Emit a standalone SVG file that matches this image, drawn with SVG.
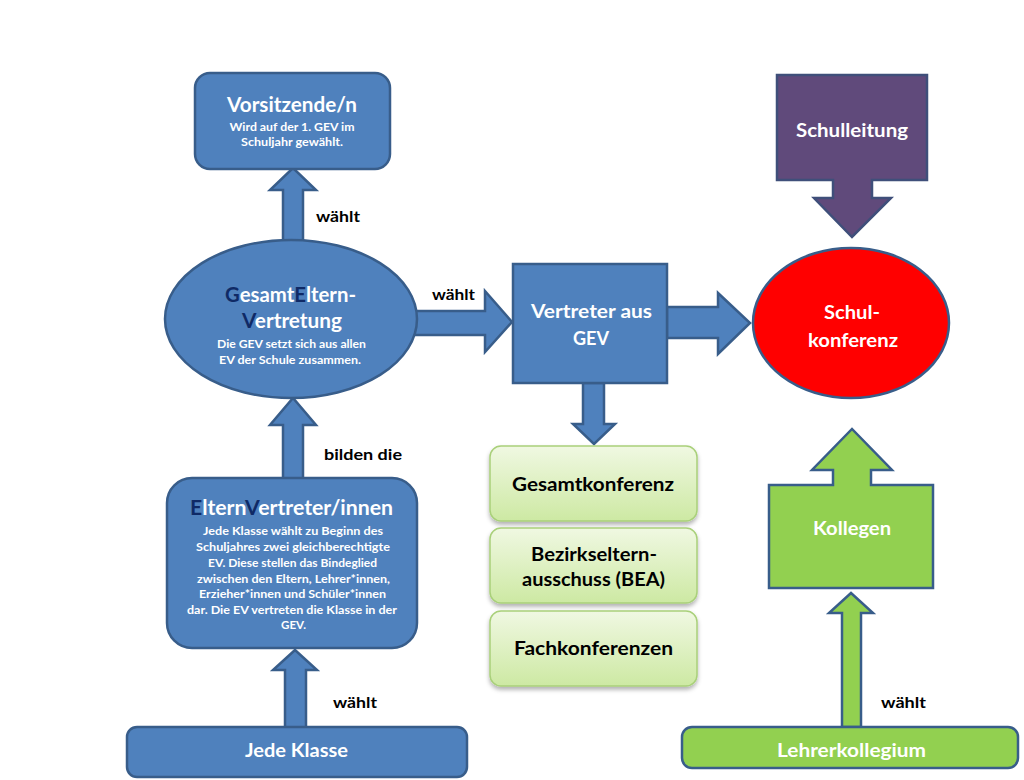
<svg xmlns="http://www.w3.org/2000/svg" width="1024" height="780" viewBox="0 0 1024 780">
<defs>
<linearGradient id="gg" x1="0" y1="0" x2="0" y2="1">
<stop offset="0" stop-color="#F0F8E2"/>
<stop offset="1" stop-color="#CDE9A3"/>
</linearGradient>
<filter id="sh" x="-10%" y="-10%" width="120%" height="130%">
<feDropShadow dx="0" dy="3" stdDeviation="2" flood-color="#000" flood-opacity="0.3"/>
</filter>
</defs>
<style>
.b{fill:#4F81BD;stroke:#385D8A;stroke-width:2.5}
.t{font-family:Lato,"Open Sans",sans-serif;font-weight:bold;fill:#fff;text-anchor:middle}
.k{font-family:Lato,"Open Sans",sans-serif;font-weight:bold;fill:#000;text-anchor:middle;font-size:19.5px}
.big{font-size:20px}
.w{font-size:19.5px}
.sm{font-size:12px}
.lbl{font-family:Lato,"Open Sans",sans-serif;font-weight:bold;fill:#000;font-size:16px}
.d{fill:#0F2A66}
.g{fill:url(#gg);stroke:#A9D07A;stroke-width:1.5}
.gr{fill:#92D050;stroke:#385D8A;stroke-width:2.5}
</style>
<rect width="1024" height="780" fill="#fff"/>
<g id="connectors">
<polygon class="b" points="283,241 283,190 270,190 293,168 316,190 303,190 303,241"/>
<polygon class="b" points="283,479 283,425 270,425 293,398 316,425 303,425 303,479"/>
<polygon class="b" points="285,728 285,670 273,670 295,650 317,670 306,670 306,728"/>
<polygon class="b" points="412,311 485,311 485,291 512,322 485,352 485,335 412,335"/>
<polygon class="b" points="667,307 718,307 718,293 750,323 718,354 718,338 667,338"/>
<polygon class="b" points="583,383 583,424 573,424 594,444 615,424 604,424 604,383"/>
<polygon class="gr" points="842,727 842,613 829,613 851,593 873,613 861,613 861,727"/>
<text class="lbl" x="316" y="222" textLength="44" lengthAdjust="spacingAndGlyphs">wählt</text>
<text class="lbl" x="324" y="460" textLength="78" lengthAdjust="spacingAndGlyphs">bilden die</text>
<text class="lbl" x="333" y="708" textLength="44" lengthAdjust="spacingAndGlyphs">wählt</text>
<text class="lbl" x="432" y="300" textLength="43" lengthAdjust="spacingAndGlyphs">wählt</text>
<text class="lbl" x="881" y="708" textLength="45" lengthAdjust="spacingAndGlyphs">wählt</text>
</g>
<g id="vorsitzende">
<rect class="b" x="195" y="73" width="195" height="96" rx="15"/>
<text class="t big" x="292" y="112" textLength="130" lengthAdjust="spacingAndGlyphs">Vorsitzende/n</text>
<text class="t sm" x="292" y="131" textLength="125" lengthAdjust="spacingAndGlyphs">Wird auf der 1. GEV im</text>
<text class="t sm" x="292" y="146" textLength="102" lengthAdjust="spacingAndGlyphs">Schuljahr gewählt.</text>
</g>
<g id="gev">
<ellipse class="b" cx="291" cy="319" rx="126" ry="79"/>
<text class="t big" x="290.5" y="302" textLength="131" lengthAdjust="spacingAndGlyphs"><tspan class="d">G</tspan>esamt<tspan class="d">E</tspan>ltern-</text>
<text class="t big" x="292" y="328" textLength="100" lengthAdjust="spacingAndGlyphs"><tspan class="d">V</tspan>ertretung</text>
<text class="t sm" x="291.5" y="348" textLength="149" lengthAdjust="spacingAndGlyphs">Die GEV setzt sich aus allen</text>
<text class="t sm" x="290" y="364" textLength="142" lengthAdjust="spacingAndGlyphs">EV der Schule zusammen.</text>
</g>
<g id="ev">
<rect class="b" x="167" y="478" width="250" height="170" rx="25"/>
<text class="t" style="font-size:20.5px" x="291.5" y="515" textLength="203" lengthAdjust="spacingAndGlyphs"><tspan class="d">E</tspan>ltern<tspan class="d">V</tspan>ertreter/innen</text>
<text class="t sm" x="293" y="535" textLength="180" lengthAdjust="spacingAndGlyphs">Jede Klasse wählt zu Beginn des</text>
<text class="t sm" x="293" y="551" textLength="194" lengthAdjust="spacingAndGlyphs">Schuljahres zwei gleichberechtigte</text>
<text class="t sm" x="292.5" y="567" textLength="169" lengthAdjust="spacingAndGlyphs">EV. Diese stellen das Bindeglied</text>
<text class="t sm" x="293.5" y="583" textLength="193" lengthAdjust="spacingAndGlyphs">zwischen den Eltern, Lehrer*innen,</text>
<text class="t sm" x="292.5" y="598" textLength="187" lengthAdjust="spacingAndGlyphs">Erzieher*innen und Schüler*innen</text>
<text class="t sm" x="292" y="614" textLength="210" lengthAdjust="spacingAndGlyphs">dar. Die EV vertreten die Klasse in der</text>
<text class="t sm" x="293.5" y="629" textLength="25" lengthAdjust="spacingAndGlyphs">GEV.</text>
</g>
<g id="jedeklasse">
<rect class="b" x="127" y="727" width="340" height="50" rx="10"/>
<text class="t w" x="296.5" y="757" textLength="103" lengthAdjust="spacingAndGlyphs">Jede Klasse</text>
</g>
<g id="vertreter">
<rect class="b" x="513" y="264" width="154" height="119"/>
<text class="t w" x="591.5" y="318" textLength="121" lengthAdjust="spacingAndGlyphs">Vertreter aus</text>
<text class="t w" x="591" y="345" textLength="36" lengthAdjust="spacingAndGlyphs">GEV</text>
</g>
<g id="gesamtkonferenz">
<rect class="g" filter="url(#sh)" x="490" y="446" width="207" height="75" rx="11"/>
<text class="k" x="593" y="491" textLength="162" lengthAdjust="spacingAndGlyphs">Gesamtkonferenz</text>
</g>
<g id="bea">
<rect class="g" filter="url(#sh)" x="490" y="528" width="207" height="75" rx="11"/>
<text class="k" x="594" y="561" textLength="126" lengthAdjust="spacingAndGlyphs">Bezirkseltern-</text>
<text class="k" x="593.5" y="586" textLength="143" lengthAdjust="spacingAndGlyphs">ausschuss (BEA)</text>
</g>
<g id="fachkonferenzen">
<rect class="g" filter="url(#sh)" x="490" y="611" width="207" height="75" rx="11"/>
<text class="k" x="593.5" y="655" textLength="159" lengthAdjust="spacingAndGlyphs">Fachkonferenzen</text>
</g>
<g id="schulleitung">
<polygon fill="#604A7B" stroke="#3F4F7A" stroke-width="2.5" points="777,75 927,75 927,180 872,180 872,198 891,198 852,237 814,198 833,198 833,180 777,180"/>
<text class="t w" x="852" y="137" textLength="112" lengthAdjust="spacingAndGlyphs">Schulleitung</text>
</g>
<g id="schulkonferenz">
<ellipse fill="#FF0000" stroke="#385D8A" stroke-width="2.5" cx="851" cy="323" rx="98" ry="75"/>
<text class="t w" x="852" y="319" textLength="56" lengthAdjust="spacingAndGlyphs">Schul-</text>
<text class="t w" x="853" y="347" textLength="90" lengthAdjust="spacingAndGlyphs">konferenz</text>
</g>
<g id="kollegen">
<polygon class="gr" points="769,485 833,485 833,470 812,470 852,429 892,470 871,470 871,485 933,485 933,588 769,588"/>
<text class="t w" x="852" y="535" textLength="78" lengthAdjust="spacingAndGlyphs">Kollegen</text>
</g>
<g id="lehrerkollegium">
<rect class="gr" x="682" y="727" width="336" height="41" rx="10"/>
<text class="t w" x="851.5" y="757" textLength="149" lengthAdjust="spacingAndGlyphs">Lehrerkollegium</text>
</g>
</svg>
